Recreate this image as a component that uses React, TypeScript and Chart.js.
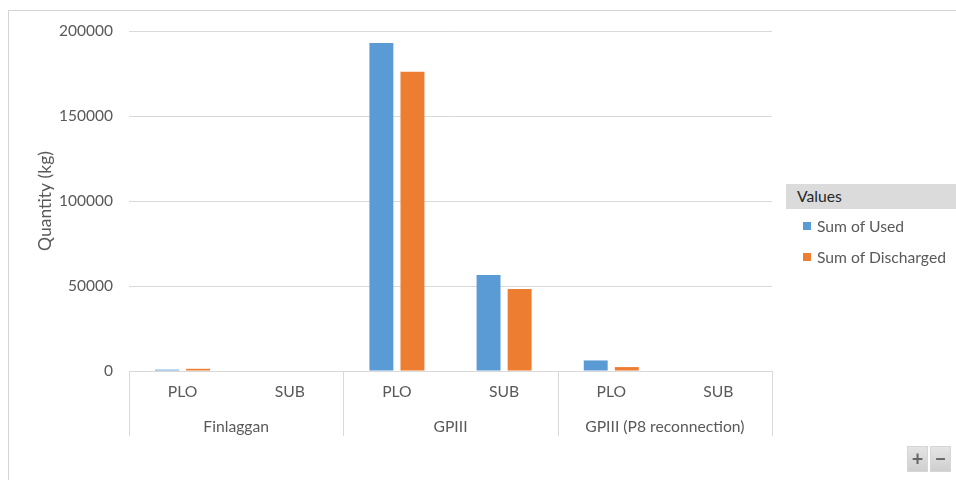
import React, { useEffect, useRef } from "react";
import { Chart, registerables } from "chart.js";

Chart.register(...registerables);

// Outer category groups and the sub-categories inside each group
const groups = ["Finlaggan", "GPIII", "GPIII (P8 reconnection)"];
const subCategories = ["PLO", "SUB"];

// Series values, one per (group, sub-category) pair
const usedValues = [800, null, 193000, 56500, 6200, null];
const dischargedValues = [1300, null, 176000, 48200, 2300, null];

const seriesNames = ["Sum of Used", "Sum of Discharged"];
const seriesColors = ["#5B9BD5", "#ED7D31"];

const yMin = 0;
const yMax = 200000;
const yStep = 50000;
const yTitle = "Quantity (kg)";
const legendTitle = "Values";

const FONT = "Lato, 'Open Sans', sans-serif";
const TEXT = "#595959";
const LINE = "#d9d9d9";
const LABEL_SIZE = 15.7;

// Draws the second-level category row (group names + separators) and the y title
const groupAxisPlugin = {
  id: "groupAxis",
  afterDraw(chart: any) {
    const { ctx, chartArea } = chart;
    const xs = chart.scales.x;
    const per = subCategories.length;
    const catW = (xs.right - xs.left) / (groups.length * per);
    const top = xs.top;
    ctx.save();
    ctx.strokeStyle = LINE;
    ctx.lineWidth = 1;
    for (let g = 0; g <= groups.length; g++) {
      const x = Math.round(xs.left + g * per * catW) + 0.5;
      ctx.beginPath();
      ctx.moveTo(x, top);
      ctx.lineTo(x, top + 65);
      ctx.stroke();
    }
    ctx.fillStyle = TEXT;
    ctx.font = `${LABEL_SIZE}px ${FONT}`;
    ctx.textAlign = "center";
    ctx.textBaseline = "middle";
    groups.forEach((name, g) => {
      const first = xs.getPixelForValue(g * per);
      const last = xs.getPixelForValue(g * per + per - 1);
      ctx.fillText(name, (first + last) / 2, top + 56);
    });
    // y-axis title
    ctx.font = `17.5px ${FONT}`;
    ctx.translate(45, (chartArea.top + chartArea.bottom) / 2);
    ctx.rotate(-Math.PI / 2);
    ctx.fillText(yTitle, 0, 0);
    ctx.restore();
  },
};

export default function App() {
  const canvasRef = useRef<HTMLCanvasElement | null>(null);

  useEffect(() => {
    const canvas = canvasRef.current;
    if (!canvas) return;
    const labels = groups.flatMap(() => subCategories);
    const chart = new Chart(canvas, {
      type: "bar",
      data: {
        labels,
        datasets: [
          {
            label: seriesNames[0],
            data: usedValues,
            backgroundColor: seriesColors[0],
            categoryPercentage: 0.58,
            barPercentage: 0.77,
          },
          {
            label: seriesNames[1],
            data: dischargedValues,
            backgroundColor: seriesColors[1],
            categoryPercentage: 0.58,
            barPercentage: 0.77,
          },
        ],
      },
      options: {
        responsive: false,
        animation: false,
        layout: { padding: { left: 0, top: 31, right: 184, bottom: 0 } },
        plugins: {
          legend: { display: false },
          tooltip: { enabled: false },
        },
        scales: {
          x: {
            offset: true,
            grid: { display: false, drawTicks: false },
            border: { display: true, color: LINE, width: 1 },
            ticks: {
              color: TEXT,
              font: { family: FONT, size: LABEL_SIZE },
              padding: 12,
              maxRotation: 0,
            },
            afterFit(scale: any) {
              scale.height = 109;
            },
          },
          y: {
            min: yMin,
            max: yMax,
            ticks: {
              stepSize: yStep,
              color: TEXT,
              font: { family: FONT, size: 15.5 },
              padding: 16,
              callback: (v: any) => String(v),
            },
            grid: { color: LINE, drawTicks: false, lineWidth: 1 },
            border: { display: false },
            afterFit(scale: any) {
              scale.width = 129;
            },
          },
        },
      },
      plugins: [groupAxisPlugin],
    });
    return () => chart.destroy();
  }, []);

  const btn: React.CSSProperties = {
    position: "absolute",
    top: 446,
    width: 21,
    height: 26,
    background: "linear-gradient(#e4e4e4, #cfcfcf)",
    border: "1px solid #d6d6d6",
    boxSizing: "border-box",
    color: "#666",
    font: `bold 20px ${FONT}`,
    lineHeight: "22px",
    textAlign: "center",
  };

  return (
    <div
      style={{
        position: "fixed",
        left: 0,
        top: 0,
        width: 956,
        height: 480,
        background: "#fff",
        overflow: "hidden",
      }}
    >
      <div
        style={{
          position: "absolute",
          left: 8,
          top: 10,
          right: -2,
          bottom: -2,
          borderTop: "1px solid #d4d4d4",
          borderLeft: "1px solid #d4d4d4",
        }}
      />
      <canvas
        ref={canvasRef}
        width={956}
        height={480}
        style={{ position: "absolute", left: 0, top: 0, width: 956, height: 480 }}
      />
      <div
        style={{
          position: "absolute",
          left: 786,
          top: 184,
          width: 170,
          height: 25,
          background: "#dbdbdb",
          fontFamily: FONT,
          fontSize: LABEL_SIZE,
          color: "#262626",
          lineHeight: "25px",
          paddingLeft: 11,
          boxSizing: "border-box",
        }}
      >
        {legendTitle}
      </div>
      {seriesNames.map((name, i) => (
        <div
          key={name}
          style={{
            position: "absolute",
            left: 803,
            top: 216 + i * 31,
            height: 20,
            display: "flex",
            alignItems: "center",
            fontFamily: FONT,
            fontSize: LABEL_SIZE,
            color: TEXT,
            whiteSpace: "nowrap",
          }}
        >
          <span
            style={{
              display: "inline-block",
              width: 8,
              height: 8,
              background: seriesColors[i],
              marginRight: 6,
            }}
          />
          {name}
        </div>
      ))}
      <div style={{ ...btn, left: 907 }}>+</div>
      <div style={{ ...btn, left: 930 }}>−</div>
    </div>
  );
}
